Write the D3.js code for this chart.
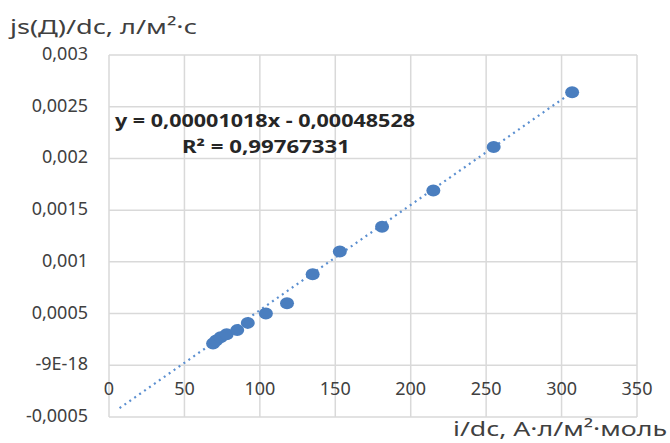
<!DOCTYPE html>
<html>
<head>
<meta charset="utf-8">
<style>
    body { margin: 0; background: #fff; }
    text { font-family: "Noto Sans", sans-serif; fill: #404040; }
</style>
</head>
<body>
<svg id="chart" width="670" height="443"></svg>
<script src="https://cdn.jsdelivr.net/npm/d3@7"></script>
<script>
    // data
    let xVals = [69, 71, 74, 78, 85, 92, 104, 118, 135, 153, 181, 215, 255, 307]
    let yVals = [0.00021, 0.00024, 0.00027, 0.00030, 0.00034, 0.00041, 0.00050, 0.00060, 0.00088, 0.00110, 0.00134, 0.00169, 0.00211, 0.00264]
    let xTicks = [0, 50, 100, 150, 200, 250, 300, 350]
    let yTicks = [-0.0005, 0, 0.0005, 0.001, 0.0015, 0.002, 0.0025, 0.003]
    let yTickLabels = ["-0,0005", "-9E-18", "0,0005", "0,001", "0,0015", "0,002", "0,0025", "0,003"]
    let slope = 0.00001018
    let intercept = -0.00048528
    let trendRange = [7, 307]
    let eqLines = ["y = 0,00001018x - 0,00048528", "R² = 0,99767331"]
    let yTitle = "js(Д)/dc, л/м²·с"
    let xTitle = "i/dc, А·л/м²·моль"

    let svg = d3.select("#chart")

    let x = d3.scaleLinear().domain([0, 350]).range([109, 637])
    let y = d3.scaleLinear().domain([-0.0005, 0.003]).range([417, 55])

    // grid
    svg.append("g").selectAll("line").data(xTicks).enter().append("line")
        .attr("x1", d => x(d)).attr("x2", d => x(d))
        .attr("y1", y(0.003)).attr("y2", y(-0.0005))
        .attr("stroke", "#d9d9d9").attr("stroke-width", 1.5)
    svg.append("g").selectAll("line").data(yTicks).enter().append("line")
        .attr("x1", x(0)).attr("x2", x(350))
        .attr("y1", d => y(d)).attr("y2", d => y(d))
        .attr("stroke", "#d9d9d9").attr("stroke-width", 1.5)

    // y tick labels
    svg.append("g").selectAll("text").data(yTicks).enter().append("text")
        .attr("x", 88).attr("y", d => y(d) + 5)
        .attr("text-anchor", "end")
        .style("font-size", "18px")
        .text((d, i) => yTickLabels[i])

    // x tick labels sit under the zero line
    svg.append("g").selectAll("text").data(xTicks).enter().append("text")
        .attr("x", d => x(d)).attr("y", y(0) + 30)
        .attr("text-anchor", "middle")
        .style("font-size", "18px")
        .text(d => d)

    // trendline
    svg.append("line")
        .attr("x1", x(trendRange[0])).attr("y1", y(slope * trendRange[0] + intercept))
        .attr("x2", x(trendRange[1])).attr("y2", y(slope * trendRange[1] + intercept))
        .attr("stroke", "#5b8fd0").attr("stroke-width", 2.2)
        .attr("stroke-dasharray", "2,4")

    // points
    svg.append("g").selectAll("ellipse").data(xVals).enter().append("ellipse")
        .attr("cx", d => x(d))
        .attr("cy", (d, i) => y(yVals[i]))
        .attr("rx", 7).attr("ry", 6)
        .attr("fill", "#4a7ebf")

    // equation, stretched like the reference
    let eqX = [115, 182]
    let eqW = [300, 168]
    svg.append("g").selectAll("text").data(eqLines).enter().append("text")
        .attr("x", (d, i) => eqX[i]).attr("y", (d, i) => 127 + i * 26)
        .attr("textLength", (d, i) => eqW[i]).attr("lengthAdjust", "spacingAndGlyphs")
        .style("font-size", "17px").style("font-weight", "bold")
        .style("fill", "#262626")
        .text(d => d)

    // axis titles
    svg.append("text")
        .attr("x", 10).attr("y", 34)
        .attr("textLength", 187).attr("lengthAdjust", "spacingAndGlyphs")
        .style("font-size", "20px")
        .text(yTitle)
    svg.append("text")
        .attr("x", 453).attr("y", 436)
        .attr("textLength", 214).attr("lengthAdjust", "spacingAndGlyphs")
        .style("font-size", "20px")
        .text(xTitle)
</script>
</body>
</html>
